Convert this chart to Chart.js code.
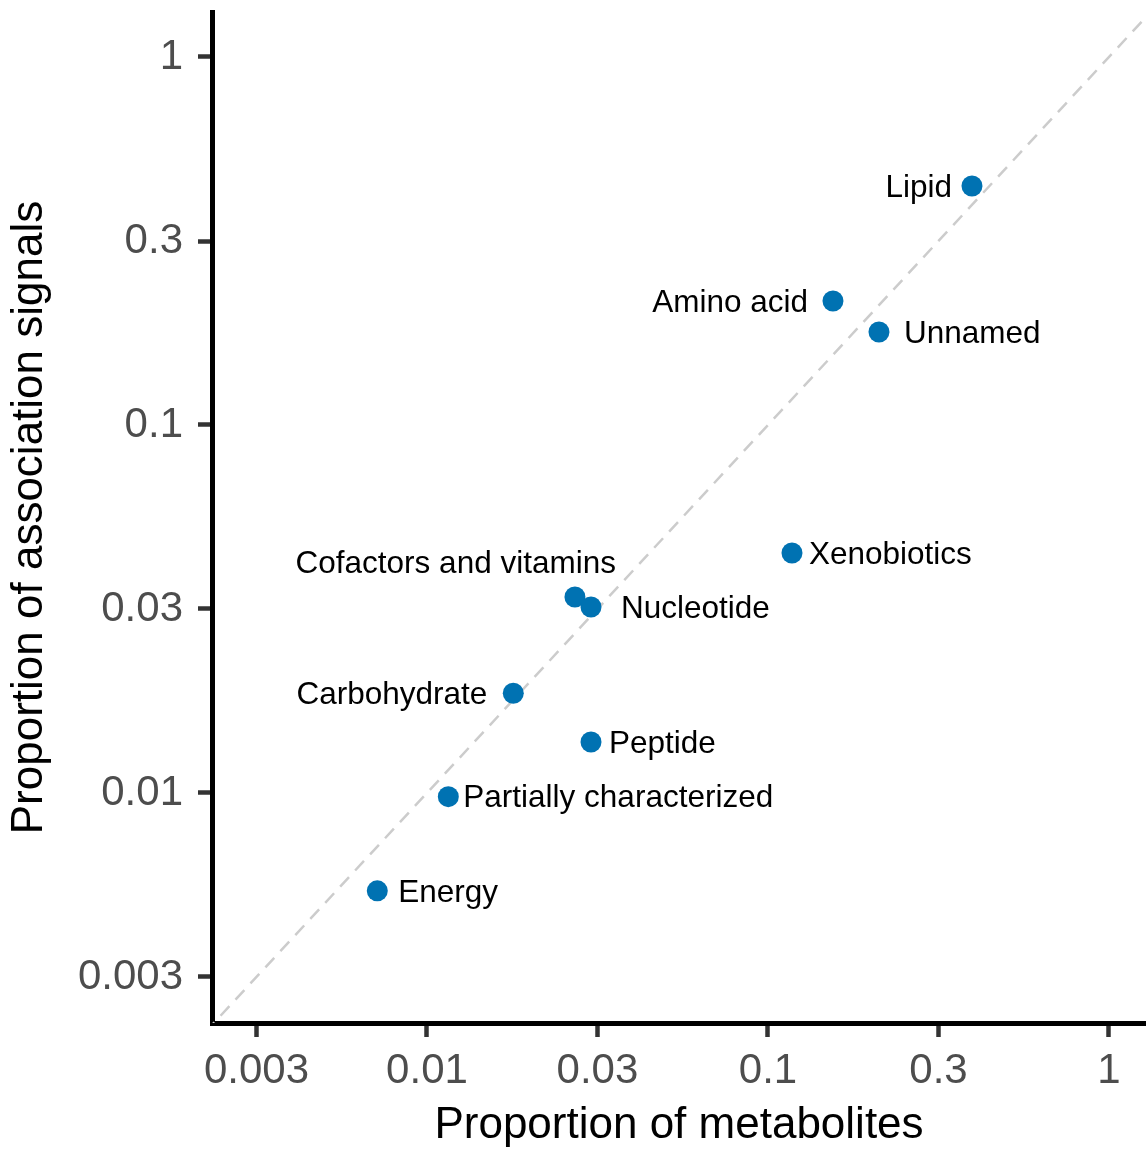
<!DOCTYPE html>
<html>
<head>
<meta charset="utf-8">
<script src="https://cdn.jsdelivr.net/npm/chart.js@4"></script>
<style>
  html, body { margin: 0; padding: 0; background: #fff; }
  canvas { display: block; }
</style>
</head>
<body>
<canvas id="chart" width="1146" height="1150"></canvas>
<script>
// Data (both axes log10)
const categories = ['Lipid', 'Amino acid', 'Unnamed', 'Xenobiotics', 'Cofactors and vitamins',
  'Nucleotide', 'Carbohydrate', 'Peptide', 'Partially characterized', 'Energy'];
const propMetabolites = [0.3965, 0.1551, 0.2116, 0.1176, 0.02716, 0.03027, 0.01791, 0.03027, 0.01155, 0.00715];
const propSignals = [0.4462, 0.2173, 0.1789, 0.0449, 0.03408, 0.03201, 0.01866, 0.01376, 0.00977, 0.00542];

// Tick positions (half decades) and their printed labels
const tickValues = [0.003162, 0.01, 0.03162, 0.1, 0.3162, 1];
const tickLabels = ['0.003', '0.01', '0.03', '0.1', '0.3', '1'];

// identity line y = x, ends outside the plot and gets clipped
const identityLine = [0.001, 10];

Chart.defaults.font.family = "'Liberation Sans', Arial, sans-serif";

// where each label sits relative to its point (px)
const labelPlacement = {
  'Lipid': { dx: -20, dy: 2, align: 'right' },
  'Amino acid': { dx: -25, dy: 2, align: 'right' },
  'Unnamed': { dx: 25, dy: 2, align: 'left' },
  'Xenobiotics': { dx: 17, dy: 2, align: 'left' },
  'Cofactors and vitamins': { dx: 41, dy: -33, align: 'right' },
  'Nucleotide': { dx: 30, dy: 2, align: 'left' },
  'Carbohydrate': { dx: -26, dy: 2, align: 'right' },
  'Peptide': { dx: 18, dy: 2, align: 'left' },
  'Partially characterized': { dx: 15, dy: 2, align: 'left' },
  'Energy': { dx: 21, dy: 2, align: 'left' }
};

const pointLabels = {
  id: 'pointLabels',
  afterDatasetsDraw(chart) {
    const ctx = chart.ctx;
    const meta = chart.getDatasetMeta(0);
    ctx.save();
    ctx.font = "31.5px 'Liberation Sans', Arial, sans-serif";
    ctx.fillStyle = '#000';
    ctx.textBaseline = 'middle';
    meta.data.forEach((pt, i) => {
      const p = labelPlacement[categories[i]];
      ctx.textAlign = p.align;
      ctx.fillText(categories[i], pt.x + p.dx, pt.y + p.dy);
    });
    ctx.restore();
  }
};

const axisTicks = (axis) => {
  axis.ticks = tickValues.map(v => ({ value: v }));
};

// no extra room for half labels at the axis ends
const noPadding = (s) => {
  s.paddingTop = 0;
  s.paddingBottom = 0;
  s.paddingLeft = 0;
  s.paddingRight = 0;
};

new Chart(document.getElementById('chart'), {
  data: {
    datasets: [
      {
        type: 'scatter',
        data: categories.map((c, i) => ({ x: propMetabolites[i], y: propSignals[i] })),
        backgroundColor: '#0072B2',
        borderWidth: 0,
        pointRadius: 10.5,
        order: 1
      },
      {
        type: 'line',
        data: identityLine.map(v => ({ x: v, y: v })),
        borderColor: '#cccccc',
        borderWidth: 2.5,
        borderDash: [13, 9],
        pointRadius: 0,
        fill: false,
        order: 2
      }
    ]
  },
  options: {
    responsive: false,
    animation: false,
    layout: { autoPadding: false, padding: { top: 12, left: 0, right: 0, bottom: 0 } },
    plugins: {
      legend: { display: false },
      tooltip: { enabled: false }
    },
    scales: {
      x: {
        type: 'logarithmic',
        min: 0.002342,
        max: 1.284,
        afterBuildTicks: axisTicks,
        afterFit: (s) => { s.height = 127; noPadding(s); },
        grid: { drawOnChartArea: false, drawTicks: true, tickLength: 14, tickColor: '#333333', tickWidth: 4.5 },
        border: { display: true, color: '#000', width: 5 },
        ticks: {
          autoSkip: false, maxRotation: 0, padding: 9,
          color: '#4d4d4d', font: { size: 42 },
          callback: (v, i) => tickLabels[i]
        },
        title: {
          display: true, text: 'Proportion of metabolites',
          color: '#000', font: { size: 44, lineHeight: 1.1 }, padding: { top: 0, bottom: 0 }
        }
      },
      y: {
        type: 'logarithmic',
        min: 0.002371,
        max: 1.3252,
        afterBuildTicks: axisTicks,
        afterFit: (s) => { s.width = 212; noPadding(s); },
        grid: { drawOnChartArea: false, drawTicks: true, tickLength: 14, tickColor: '#333333', tickWidth: 4.5 },
        border: { display: true, color: '#000', width: 5 },
        ticks: {
          autoSkip: false, padding: 15,
          color: '#4d4d4d', font: { size: 42 },
          callback: (v, i) => tickLabels[i]
        },
        title: {
          display: true, text: 'Proportion of association signals',
          color: '#000', font: { size: 44 }, padding: { top: 3, bottom: 0 }
        }
      }
    }
  },
  plugins: [pointLabels]
});
</script>
</body>
</html>
